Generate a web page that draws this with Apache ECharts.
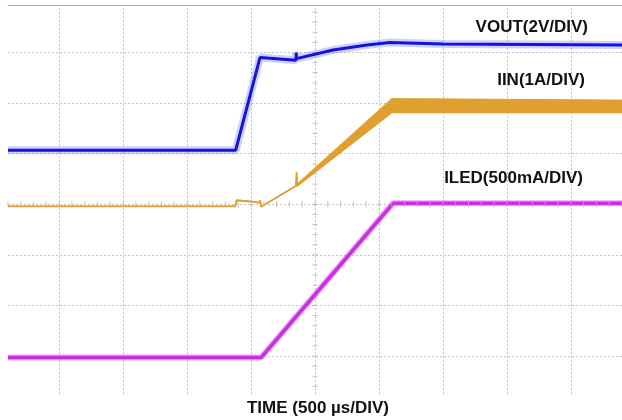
<!DOCTYPE html>
<html>
<head>
<meta charset="utf-8">
<script src="https://cdn.jsdelivr.net/npm/echarts@6/dist/echarts.min.js"></script>
<style>
  html, body { margin: 0; padding: 0; background: #fff; }
  #main { width: 622px; height: 420px; }
</style>
</head>
<body>
<div id="main"></div>
<script>
// x: time in µs (500 µs/DIV, 0 = centre graticule line)
// y: screen position in divisions (0 = centre graticule line)

// VOUT (2V/DIV)
const voutT = [-2400, -620, -430, -149, -147, -145, -141, 141, 406, 586, 1000, 2400];
const voutV = [1.07, 1.07, 2.90, 2.85, 3.00, 2.88, 2.90, 3.05, 3.15, 3.20, 3.17, 3.15];

// IIN (1A/DIV) : lower edge of the trace and width of the ripple band
const iinT    = [-2400, -625, -612, -571, -470, -432, -428, -422, -149, -146, -144, -141, 600, 2400];
const iinLow  = [-0.04, -0.04, 0.08, 0.07, 0.05, 0.03, 0.08, -0.05, 0.36, 0.38, 0.63, 0.36, 1.82, 1.82];
const iinSpan = [0, 0, 0, 0, 0, 0, 0, 0, 0.01, 0.01, 0, 0.04, 0.27, 0.24];

// ILED (500mA/DIV)
const iledT = [-2400, -422, 610, 2400];
const iledV = [-3.03, -3.03, 0.02, 0.02];

// graticule
const divX = [-2000, -1500, -1000, -500, 0, 500, 1000, 1500, 2000];
const divY = [-3, -2, -1, 0, 1, 2, 3];

const pairs = (xs, ys) => xs.map((x, i) => [x, ys[i]]);

// small ticks on the centre lines
const tickX = [];
for (let t = -2400; t <= 2400; t += 100) tickX.push([t, 0]);
const tickY = [];
for (let k = -18; k <= 19; k++) tickY.push([0, k / 5]);

const gridLine = { color: '#c4c4c4', width: 1, type: [2, 2] };
const font = 'bold 17px "Liberation Sans", Arial, sans-serif';
const orange = '#e0a030';

const chart = echarts.init(document.getElementById('main'));

// ripple band of IIN: upper edge forward, lower edge back
function renderBand(params, api) {
  const top = iinT.map((t, i) => api.coord([t, iinLow[i] + iinSpan[i]]));
  const bot = iinT.map((t, i) => api.coord([t, iinLow[i]])).reverse();
  return {
    type: 'polygon',
    shape: { points: top.concat(bot) },
    style: { fill: orange, stroke: orange, lineWidth: 1 }
  };
}

function label(text, x, y, align) {
  return {
    type: 'text', x: x, y: y, z: 100,
    style: { text: text, font: font, fill: '#111', textAlign: align, textVerticalAlign: 'middle', align: align, verticalAlign: 'middle' }
  };
}

chart.setOption({
  animation: false,
  grid: { left: 8, right: 0, top: 5, bottom: 26 },
  xAxis: {
    type: 'value', min: -2400, max: 2400, position: 'top',
    axisLine: { show: true, onZero: false, lineStyle: { color: '#aaa' } },
    axisTick: { show: false }, axisLabel: { show: false }, splitLine: { show: false }
  },
  yAxis: {
    type: 'value', min: -3.75, max: 3.94,
    axisLine: { show: false }, axisTick: { show: false },
    axisLabel: { show: false }, splitLine: { show: false }
  },
  series: [
    {
      type: 'scatter', data: tickX, symbol: 'rect', symbolSize: [1, 6],
      itemStyle: { color: '#b4b4b4' }, silent: true, z: 5,
      markLine: {
        silent: true, symbol: 'none', label: { show: false }, lineStyle: gridLine, z: 1,
        data: divX.map(v => ({ xAxis: v })).concat(divY.map(v => ({ yAxis: v })))
      }
    },
    {
      type: 'scatter', data: tickY, symbol: 'rect', symbolSize: [5, 1],
      itemStyle: { color: '#b4b4b4' }, silent: true, z: 2
    },
    // VOUT halo + trace
    {
      type: 'line', data: pairs(voutT, voutV), showSymbol: false, z: 3,
      lineStyle: { color: 'rgba(120,120,255,0.35)', width: 8 }
    },
    {
      type: 'line', data: pairs(voutT, voutV), showSymbol: false, z: 4,
      lineStyle: { color: '#1414d8', width: 3 }
    },
    // IIN trace and ripple band
    {
      type: 'line', data: pairs(iinT, iinLow), showSymbol: false, z: 3,
      lineStyle: { color: orange, width: 1.8 }
    },
    {
      type: 'custom', data: [[0, 0]], renderItem: renderBand, z: 3, silent: true
    },
    // ILED halo + trace
    {
      type: 'line', data: pairs(iledT, iledV), showSymbol: false, z: 3,
      lineStyle: { color: 'rgba(215,80,240,0.5)', width: 6 }
    },
    {
      type: 'line', data: pairs(iledT, iledV), showSymbol: false, z: 4,
      lineStyle: { color: '#c92ee0', width: 3.5 }
    }
  ],
  graphic: [
    label('VOUT(2V/DIV)', 588, 27, 'right'),
    label('IIN(1A/DIV)', 585, 80, 'right'),
    label('ILED(500mA/DIV)', 583, 178, 'right'),
    label('TIME (500 µs/DIV)', 318, 408, 'center')
  ]
});
</script>
</body>
</html>
